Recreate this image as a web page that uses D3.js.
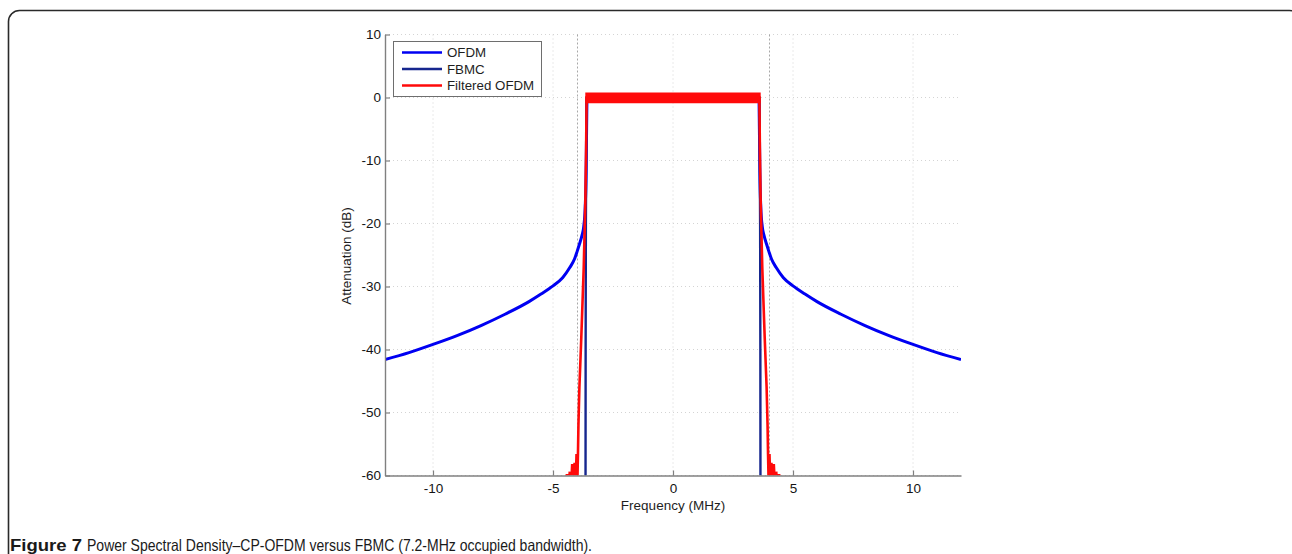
<!DOCTYPE html>
<html>
<head>
<meta charset="utf-8">
<script src="https://cdn.jsdelivr.net/npm/d3@7/dist/d3.min.js"></script>
<style>
  html, body { margin: 0; padding: 0; background: #fff; }
  svg { display: block; }
</style>
</head>
<body>
<svg id="chart" width="1292" height="554"></svg>
<script>
// ---------------- data ----------------
const xTicks = [-10, -5, 0, 5, 10];
const yTicks = [10, 0, -10, -20, -30, -40, -50, -60];
const markerFreqs = [-4, 4];

const seriesNames = ["OFDM", "FBMC", "Filtered OFDM"];
const seriesColors = ["#0000f2", "#16268e", "#ff0a0a"];

// CP-OFDM PSD (MHz, dB)
const ofdmFreq = [-12, -11, -10, -9, -8, -7, -6, -5.5, -5, -4.6, -4.3, -4.1, -4.0, -3.9, -3.8, -3.72, -3.66, -3.62, -3.6, -3.58,
                   3.58, 3.6, 3.62, 3.66, 3.72, 3.8, 3.9, 4.0, 4.1, 4.3, 4.6, 5, 5.5, 6, 7, 8, 9, 10, 11, 12];
const ofdmDb   = [-41.6, -40.5, -39.2, -37.8, -36.2, -34.4, -32.4, -31.2, -29.9, -28.6, -27.0, -25.6, -24.5, -23.3, -22.0, -20.5, -17.5, -12, -5, 0,
                   0, -5, -12, -17.5, -20.5, -22.0, -23.3, -24.5, -25.6, -27.0, -28.6, -29.9, -31.2, -32.4, -34.4, -36.2, -37.8, -39.2, -40.5, -41.6];

// FBMC PSD
const fbmcFreq = [-3.645, -3.64, -3.63, -3.61, -3.6, 3.6, 3.61, 3.63, 3.64, 3.645];
const fbmcDb   = [-64, -40, -20, -5, 0, 0, -5, -20, -40, -64];

// Filtered OFDM PSD (edges + spiky floor near -60 dB)
const fofdmFreq = [-4.5, -4.42, -4.36, -4.3, -4.25, -4.2, -4.15, -4.1, -4.06, -4.02, -3.99, -3.96, -3.94, -3.9, -3.82, -3.72, -3.65, -3.62, -3.6,
                    3.6, 3.62, 3.65, 3.72, 3.82, 3.9, 3.94, 3.96, 3.99, 4.02, 4.06, 4.1, 4.15, 4.2, 4.25, 4.3, 4.36, 4.42, 4.5];
const fofdmDb   = [-62, -59.8, -62, -59.4, -62, -58.2, -62, -58.0, -62, -56.6, -62, -56.6, -52, -46, -38, -27, -16, -8, 0,
                    0, -8, -16, -27, -38, -46, -52, -56.6, -62, -56.6, -62, -58.0, -62, -58.2, -62, -59.4, -62, -59.8, -62];
// Filtered OFDM in-band ripple envelope
const fofdmBandFreq = [-3.6, 3.6];
const fofdmBandTop = [0.6, 0.6];
const fofdmBandBottom = [-0.7, -0.7];

const captionBold = "Figure 7";
const captionText = "Power Spectral Density\u2013CP-OFDM versus FBMC (7.2-MHz occupied bandwidth).";

// ---------------- layout ----------------
const svg = d3.select("#chart");
const plot = { left: 385, right: 961, top: 34.5, bottom: 475.5 };

// outer frame (rounded, runs off right / bottom)
svg.append("rect")
  .attr("x", 8.5).attr("y", 10.5)
  .attr("width", 1292).attr("height", 600)
  .attr("rx", 11).attr("ry", 11)
  .attr("fill", "none").attr("stroke", "#2a2a2a").attr("stroke-width", 1.6);

const x = d3.scaleLinear().domain([-12, 12]).range([plot.left, plot.right]);
const y = d3.scaleLinear().domain([-60, 10]).range([plot.bottom, plot.top]);

// grid
const grid = svg.append("g").attr("stroke", "#d4d4d4").attr("stroke-width", 1).attr("stroke-dasharray", "1,3");
grid.selectAll("line.gx").data(xTicks).join("line")
  .attr("x1", d => x(d)).attr("x2", d => x(d)).attr("y1", plot.top).attr("y2", plot.bottom);
grid.selectAll("line.gy").data(yTicks).join("line")
  .attr("x1", plot.left).attr("x2", plot.right).attr("y1", d => y(d)).attr("y2", d => y(d));

// band edge markers
svg.append("g").selectAll("line").data(markerFreqs).join("line")
  .attr("x1", d => Math.round(x(d)) + 0.5).attr("x2", d => Math.round(x(d)) + 0.5)
  .attr("y1", plot.top).attr("y2", plot.bottom)
  .attr("stroke", "#a8a8a8").attr("stroke-width", 1).attr("stroke-dasharray", "2,2");

// clip
svg.append("defs").append("clipPath").attr("id", "clip")
  .append("rect").attr("x", plot.left).attr("y", plot.top)
  .attr("width", plot.right - plot.left).attr("height", plot.bottom - plot.top);

const g = svg.append("g").attr("clip-path", "url(#clip)");
const line = d3.line().x(d => x(d[0])).y(d => y(d[1]));
const smoothLine = d3.line().x(d => x(d[0])).y(d => y(d[1])).curve(d3.curveMonotoneX);

g.append("path").datum(d3.zip(ofdmFreq, ofdmDb))
  .attr("d", smoothLine).attr("fill", "none").attr("stroke", seriesColors[0])
  .attr("stroke-width", 3).attr("stroke-linejoin", "round");
g.append("path").datum(d3.zip(fbmcFreq, fbmcDb))
  .attr("d", line).attr("fill", "none").attr("stroke", seriesColors[1])
  .attr("stroke-width", 2.4).attr("stroke-linejoin", "round");
g.append("path").datum(d3.zip(fofdmFreq, fofdmDb))
  .attr("d", line).attr("fill", "none").attr("stroke", seriesColors[2])
  .attr("stroke-width", 2.6).attr("stroke-linejoin", "miter");
const area = d3.area().x(d => x(d[0])).y0(d => y(d[2])).y1(d => y(d[1]));
g.append("path").datum(d3.zip(fofdmBandFreq, fofdmBandTop, fofdmBandBottom))
  .attr("d", area).attr("fill", seriesColors[2])
  .attr("stroke", seriesColors[2]).attr("stroke-width", 2.6).attr("stroke-linejoin", "miter");

// axes
const font = "'Liberation Sans', Arial, sans-serif";
const fmt = d => String(d);
const yAxis = d3.axisLeft(y).tickValues(yTicks).tickFormat(fmt).tickSizeInner(-5).tickSizeOuter(0).tickPadding(4);
const xAxis = d3.axisBottom(x).tickValues(xTicks).tickFormat(fmt).tickSizeInner(-5).tickSizeOuter(0).tickPadding(8);

const ya = svg.append("g").attr("transform", `translate(${plot.left},0)`).call(yAxis);
const xa = svg.append("g").attr("transform", `translate(0,${plot.bottom})`).call(xAxis);
[ya, xa].forEach(a => {
  a.select(".domain").attr("stroke", "#808080").attr("stroke-width", 1.4);
  a.selectAll(".tick line").attr("stroke", "#808080").attr("stroke-width", 1.2);
  a.selectAll(".tick text").attr("fill", "#141414").style("font-family", font).style("font-size", "13.5px");
});

svg.append("text").attr("x", x(0)).attr("y", 510)
  .attr("text-anchor", "middle").attr("fill", "#1e1e1e")
  .style("font-family", font).style("font-size", "13.5px").text("Frequency (MHz)");
svg.append("text").attr("transform", `translate(351,256) rotate(-90)`)
  .attr("text-anchor", "middle").attr("fill", "#1e1e1e")
  .style("font-family", font).style("font-size", "13.5px").text("Attenuation (dB)");

// legend
const leg = svg.append("g");
leg.append("rect").attr("x", 393.5).attr("y", 41.5).attr("width", 148).attr("height", 55)
  .attr("fill", "#fff").attr("stroke", "#6e6e6e").attr("stroke-width", 1);
const legRowY = [52.5, 69, 85.5];
seriesNames.forEach((name, i) => {
  leg.append("line").attr("x1", 402).attr("x2", 442).attr("y1", legRowY[i]).attr("y2", legRowY[i])
    .attr("stroke", seriesColors[i]).attr("stroke-width", 2.6);
  leg.append("text").attr("x", 447).attr("y", legRowY[i]).attr("dy", "0.36em")
    .attr("fill", "#1e1e1e").style("font-family", font).style("font-size", "13.3px").text(name);
});

// caption (condensed look: Liberation Sans compressed to the measured widths)
svg.append("text").attr("x", 10).attr("y", 551)
  .attr("textLength", 72).attr("lengthAdjust", "spacingAndGlyphs")
  .style("font-family", font).style("font-weight", "bold")
  .style("font-size", "16.5px").attr("fill", "#1a1a1a").text(captionBold);
svg.append("text").attr("x", 87).attr("y", 551)
  .attr("textLength", 505).attr("lengthAdjust", "spacingAndGlyphs")
  .style("font-family", font)
  .style("font-size", "16.5px").attr("fill", "#1a1a1a").text(captionText);
</script>
</body>
</html>
